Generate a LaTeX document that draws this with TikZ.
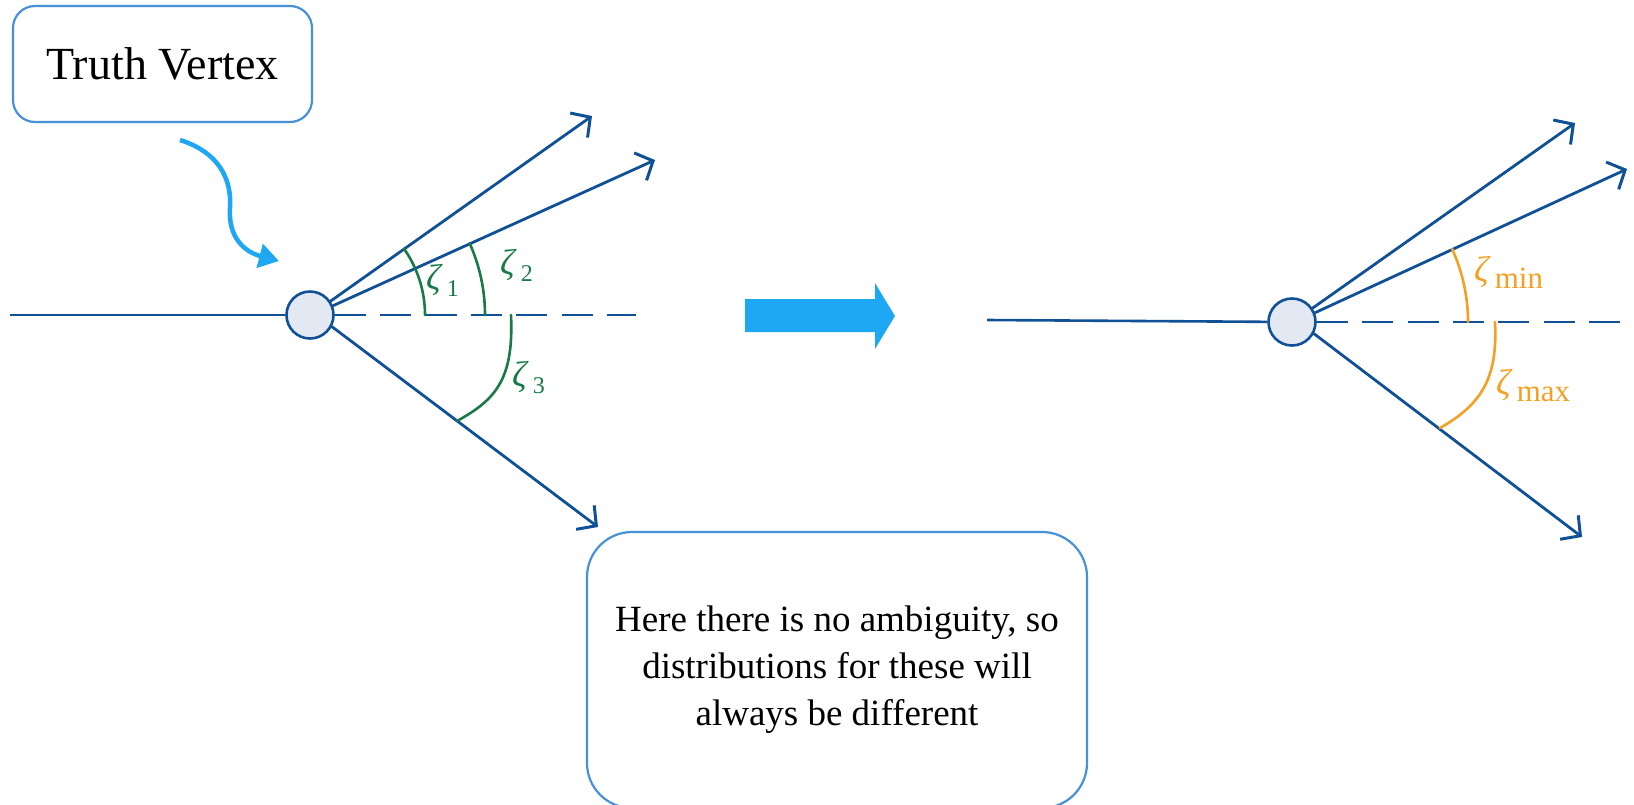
\documentclass[tikz,border=0pt]{standalone}
\usepackage{fontspec}
\setmainfont{Liberation Serif}
\usetikzlibrary{arrows.meta,calc}
\definecolor{dblue}{RGB}{16,80,150}
\definecolor{bblue}{RGB}{30,168,244}
\definecolor{boxblue}{RGB}{70,145,215}
\definecolor{dgreen}{RGB}{25,122,72}
\definecolor{orng}{RGB}{244,160,36}
\definecolor{vfill}{RGB}{226,233,243}
\newcommand\zetalab[2][24]{{\itshape ζ}\,\raisebox{-7pt}{\fontsize{#1}{26}\selectfont #2}}
\tikzset{
  ray/.style={draw=dblue, line width=2.8pt, line cap=round, -{Straight Barb[length=14pt,width=30pt,line width=3pt]}},
  hline/.style={draw=dblue, line width=2.6pt},
  dashline/.style={draw=dblue, line width=2.8pt, dash pattern=on 31pt off 14.4pt},
  vtx/.style={circle, draw=dblue, fill=vfill, line width=2.6pt, minimum size=47pt, inner sep=0pt},
  garc/.style={draw=dgreen, line width=2.6pt, line cap=round},
  oarc/.style={draw=orng, line width=2.6pt, line cap=round},
  glabel/.style={text=dgreen, font=\fontsize{36}{38}\selectfont, anchor=west, inner sep=0pt},
  olabel/.style={text=orng, font=\fontsize{36}{38}\selectfont, anchor=west, inner sep=0pt},
  callout/.style={draw=boxblue, line width=2.2pt, fill=white, align=center, inner sep=0pt}
}
\begin{document}
\begin{tikzpicture}[x=1pt,y=-1pt]
\useasboundingbox (0,0) rectangle (1634,804);
% Truth vertex box
\node[callout, rounded corners=22pt, minimum width=299pt, minimum height=116pt, font=\fontsize{46}{50}\selectfont] (tv) at (162.5,64) {Truth Vertex};
% curved arrow
\coordinate (ca1) at (180,140);
\coordinate (ca2) at (279,261);
\draw[bblue, line width=4.5pt, -{Triangle[length=20pt,width=24pt]}] (ca1) .. controls (218,152) and (232,178) .. (230,208) .. controls (228,238) and (245,252) .. (ca2);

% left diagram
\node[vtx] (v1) at (310,315) {};
\coordinate (l1) at (10,315);
\coordinate (d1) at (636,315);
\coordinate (t11) at (592,116);
\coordinate (t12) at (655,160);
\coordinate (t13) at (598,527);
\draw[hline] (l1) -- (v1);
\draw[dashline] (v1) -- (d1);
\draw[ray] (v1.34) -- (t11);
\draw[ray] (v1.22) -- (t12);
\draw[ray] (v1.-28) -- (t13);
\draw[garc] plot[domain=0:35.2, samples=30] ({310+115*cos(\x)},{315-115*sin(\x)});
\draw[garc] plot[domain=0:24.2, samples=30] ({310+175*cos(\x)},{315-175*sin(\x)});
\draw[garc] (511,315) .. controls (514,380) and (495,400) .. (457,421);
\node[glabel] (z1) at (426,280) {\zetalab{1}};
\node[glabel] (z2) at (500,265) {\zetalab{2}};
\node[glabel] (z3) at (512,378) {\zetalab{3}};

% block arrow
\fill[bblue] (745,299) -- (875,299) -- (875,283) -- (895,316) -- (875,349) -- (875,332) -- (745,332) -- cycle;

% right diagram
\node[vtx] (v2) at (1292,322) {};
\coordinate (l2) at (987,320);
\coordinate (d2) at (1620,322);
\coordinate (t21) at (1575,123);
\coordinate (t22) at (1627,169);
\coordinate (t23) at (1582,537);
\draw[hline] (l2) -- (v2);
\draw[dashline] (v2) -- (d2);
\draw[ray] (v2.34) -- (t21);
\draw[ray] (v2.22) -- (t22);
\draw[ray] (v2.-28) -- (t23);
\draw[oarc] plot[domain=0:24.5, samples=30] ({1292+176*cos(\x)},{322-176*sin(\x)});
\draw[oarc] (1495,322) .. controls (1498,380) and (1480,405) .. (1440,428);
\node[olabel] (zmin) at (1474,272) {\zetalab[31]{min}};
\node[olabel] (zmax) at (1496,386) {\zetalab[31]{max}};

% bottom note
\node[callout, rounded corners=45pt, minimum width=500pt, minimum height=276pt, font=\fontsize{37}{47}\selectfont] (note) at (837,670) {Here there is no ambiguity, so\\distributions for these will\\always be different};
\end{tikzpicture}
\end{document}
